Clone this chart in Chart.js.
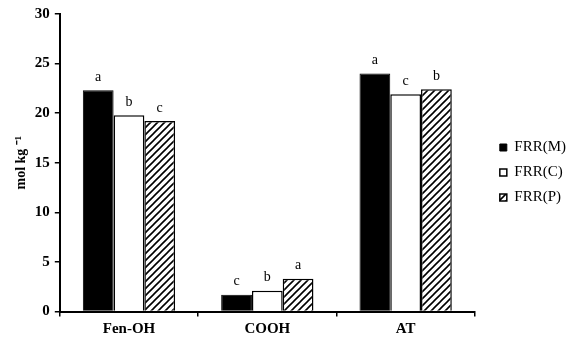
<!DOCTYPE html>
<html>
<head>
<meta charset="utf-8">
<script src="https://cdn.jsdelivr.net/npm/chart.js@4.4.1/dist/chart.umd.min.js"></script>
<style>
  html, body { margin: 0; padding: 0; background: #fff; }
  #wrap { width: 567px; height: 337px; position: relative; }
</style>
</head>
<body>
<div id="wrap"><canvas id="chart" width="567" height="337"></canvas></div>
<script>
// ---- data ----
const categories = ["Fen-OH", "COOH", "AT"];
const seriesNames = ["FRR(M)", "FRR(C)", "FRR(P)"];
const valuesM = [22.3, 1.7, 24.0];
const valuesC = [19.8, 2.1, 21.9];
const valuesP = [19.2, 3.3, 22.4];
const lettersM = ["a", "c", "a"];
const lettersC = ["b", "b", "c"];
const lettersP = ["c", "a", "b"];
const yTicks = [0, 5, 10, 15, 20, 25, 30];

// diagonal hatch for FRR(P)
function makeHatch() {
  const c = document.createElement("canvas");
  c.width = 7;
  c.height = 7;
  const g = c.getContext("2d");
  g.fillStyle = "#fff";
  g.fillRect(0, 0, 7, 7);
  g.strokeStyle = "#000";
  g.lineWidth = 1.6;
  g.beginPath();
  g.moveTo(-1, 8); g.lineTo(8, -1);
  g.moveTo(-1, 1); g.lineTo(1, -1);
  g.moveTo(6, 8); g.lineTo(8, 6);
  g.stroke();
  return g.createPattern(c, "repeat");
}

const serif = "'Liberation Serif', 'Times New Roman', serif";

// letters above each bar
const letterPlugin = {
  id: "letters",
  afterDatasetsDraw(chart) {
    const ctx = chart.ctx;
    const sets = [lettersM, lettersC, lettersP];
    ctx.save();
    ctx.fillStyle = "#000";
    ctx.font = "14px " + serif;
    ctx.textAlign = "center";
    ctx.textBaseline = "bottom";
    chart.data.datasets.forEach((ds, i) => {
      chart.getDatasetMeta(i).data.forEach((bar, j) => {
        ctx.fillText(sets[i][j], bar.x, bar.y - 6);
      });
    });
    ctx.restore();
  },
};

// nudge the legend a bit away from the plot
const legendShift = {
  id: "legendShift",
  afterLayout(chart) {
    const lg = chart.legend;
    if (!lg) return;
    lg.left += 15;
    lg.right += 15;
    lg.top -= 2;
    lg.bottom -= 2;
  },
};

new Chart(document.getElementById("chart").getContext("2d"), {
  type: "bar",
  data: {
    labels: categories,
    datasets: [
      { label: seriesNames[0], data: valuesM, backgroundColor: "#000", borderColor: "#000", borderWidth: 1 },
      { label: seriesNames[1], data: valuesC, backgroundColor: "#fff", borderColor: "#000", borderWidth: 1.5 },
      { label: seriesNames[2], data: valuesP, backgroundColor: makeHatch(), borderColor: "#000", borderWidth: 1.5 },
    ],
  },
  options: {
    responsive: false,
    animation: false,
    barPercentage: 1,
    categoryPercentage: 0.667,
    layout: { padding: { top: 8, right: 6, left: 13, bottom: -4 } },
    plugins: {
      tooltip: { enabled: false },
      legend: {
        position: "right",
        labels: {
          boxWidth: 7,
          boxHeight: 7,
          padding: 10,
          color: "#000",
          font: { family: serif, size: 15 },
        },
      },
    },
    scales: {
      x: {
        grid: { drawOnChartArea: false, color: "#000", tickLength: 5, lineWidth: 1.5 },
        border: { color: "#000", width: 2 },
        ticks: { color: "#000", font: { family: serif, size: 15, weight: "bold", lineHeight: 1.1 }, padding: 4 },
      },
      y: {
        min: 0,
        max: 30,
        afterBuildTicks: (axis) => { axis.ticks = yTicks.map((v) => ({ value: v })); },
        grid: { drawOnChartArea: false, color: "#000", tickLength: 5, lineWidth: 1.5 },
        border: { color: "#000", width: 2 },
        ticks: { color: "#000", font: { family: serif, size: 15, weight: "bold" }, padding: 5 },
        title: {
          display: true,
          text: "mol kg \u207B\u00B9",
          color: "#000",
          font: { family: serif, size: 14, weight: "bold" },
          padding: { top: 0, bottom: 0 },
        },
      },
    },
  },
  plugins: [letterPlugin, legendShift],
});
</script>
</body>
</html>
